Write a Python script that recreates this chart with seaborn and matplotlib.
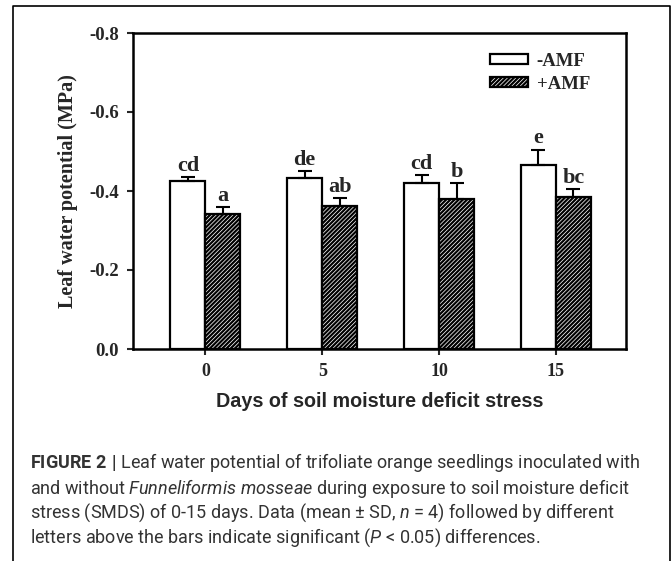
import matplotlib
matplotlib.use("Agg")
import matplotlib.pyplot as plt
import seaborn as sns
import pandas as pd
import numpy as np
from matplotlib.lines import Line2D
from matplotlib.patches import Patch

days = ["0", "5", "10", "15"]
treatments = ["-AMF", "+AMF"]
minus_amf = [-0.425, -0.432, -0.420, -0.467]
plus_amf = [-0.342, -0.363, -0.380, -0.386]
minus_sd = [0.010, 0.019, 0.020, 0.038]
plus_sd = [0.018, 0.019, 0.040, 0.019]
minus_letters = ["cd", "de", "cd", "e"]
plus_letters = ["a", "ab", "b", "bc"]
yticks = [0.0, -0.2, -0.4, -0.6, -0.8]

df = pd.DataFrame({
    "day": days * 2,
    "treatment": [treatments[0]] * 4 + [treatments[1]] * 4,
    "value": minus_amf + plus_amf,
})

sns.set_style("white")
plt.rcParams["hatch.linewidth"] = 1.6
plt.rcParams["mathtext.fontset"] = "custom"
plt.rcParams["mathtext.rm"] = "Roboto"
plt.rcParams["mathtext.it"] = "Roboto:italic"
plt.rcParams["mathtext.bf"] = "Roboto:bold"

fig = plt.figure(figsize=(6.72, 5.61), dpi=100)
ax = fig.add_axes([133 / 672, 1 - 349 / 561, (626 - 133) / 672, (349 - 33) / 561])

sns.barplot(data=df, x="day", y="value", hue="treatment", order=days,
            hue_order=treatments, width=0.6, gap=0, errorbar=None,
            palette=["white", "white"], edgecolor="black", linewidth=1.6,
            legend=False, ax=ax)

HATCH = "////////"
containers = list(ax.containers[:2])
for p in containers[1]:
    p.set_hatch(HATCH)

serif = "Liberation Serif"
all_sd = [minus_sd, plus_sd]
all_letters = [minus_letters, plus_letters]
for ci, cont in enumerate(containers):
    for i, p in enumerate(cont):
        xc = p.get_x() + p.get_width() / 2
        val = p.get_height()
        sd = all_sd[ci][i]
        ax.errorbar([xc], [val], yerr=[[sd], [0]], fmt="none", ecolor="black",
                    elinewidth=1.5, capsize=5, capthick=1.5, zorder=5)
        ax.text(xc, val - sd - 0.003, all_letters[ci][i], ha="center", va="bottom",
                fontsize=16, fontweight="bold", family=serif)

ax.set_ylim(0, -0.8)
ax.set_xlim(-0.62, 3.6)
ax.set_yticks(yticks)
ax.set_yticklabels([f"{t:.1f}" for t in yticks], fontsize=13.5, fontweight="bold", family=serif)
ax.set_xticks(range(len(days)))
ax.set_xticklabels(days, fontsize=13, fontweight="bold", family=serif)
ax.tick_params(axis="both", direction="out", length=4, width=1.5, bottom=True, left=True, pad=6)
for s in ax.spines.values():
    s.set_linewidth(1.8)
    s.set_color("black")
    s.set_visible(True)
ax.set_ylabel("Leaf water potential (MPa)", fontsize=14.5, fontweight="bold", family=serif, labelpad=8)
ax.set_xlabel("Days of soil moisture deficit stress", fontsize=14.2, fontweight="bold",
              family="Liberation Sans", labelpad=9)

handles = [Patch(facecolor="white", edgecolor="black", linewidth=1.6),
           Patch(facecolor="white", edgecolor="black", linewidth=1.6, hatch=HATCH)]
ax.legend(handles, treatments, loc="upper left", bbox_to_anchor=((490 - 133) / 493, 1 - (53 - 33) / 316),
          frameon=False, borderaxespad=0, borderpad=0,
          prop={"family": serif, "weight": "bold", "size": 13.5},
          handlelength=2.05, handleheight=0.45, handletextpad=0.45, labelspacing=0.3)

fig.add_artist(Line2D([13 / 672, 13 / 672, 670 / 672, 670 / 672], [0, 1 - 6 / 561, 1 - 6 / 561, 0],
                      transform=fig.transFigure, color="black", linewidth=1.2))

cap_lines = [
    r"$\bf{FIGURE\ 2\ |}$ Leaf water potential of trifoliate orange seedlings inoculated with",
    r"and without $\it{Funneliformis\ mosseae}$ during exposure to soil moisture deficit",
    r"stress (SMDS) of 0-15 days. Data (mean ± SD, $\it{n}$ = 4) followed by different",
    r"letters above the bars indicate significant ($\it{P}$ < 0.05) differences.",
]
cap_y = [463, 489, 513, 538]
for line, yy in zip(cap_lines, cap_y):
    fig.text(30 / 672, 1 - yy / 561, line, ha="left", va="center", fontsize=13,
             family="Roboto", color="#333333")

fig.savefig("out.png", dpi=100)
